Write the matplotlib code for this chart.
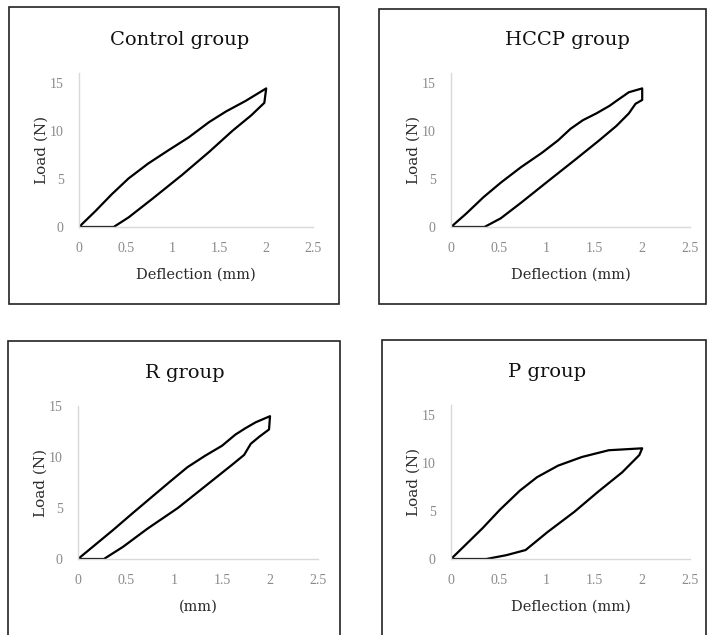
import matplotlib
matplotlib.use('Agg')
import matplotlib.pyplot as plt
from matplotlib.patches import Rectangle

# load-deflection loops (loading then unloading)
control_x = [0, 0.17, 0.35, 0.53, 0.74, 0.96, 1.17, 1.39, 1.57, 1.78, 2.0,
             1.98, 1.84, 1.64, 1.39, 1.10, 0.78, 0.53, 0.37, 0]
control_y = [0, 1.6, 3.4, 5.05, 6.6, 8.0, 9.3, 10.9, 12.0, 13.1, 14.4,
             12.9, 11.6, 10.0, 7.8, 5.4, 2.9, 1.0, 0, 0]

hccp_x = [0, 0.16, 0.34, 0.52, 0.73, 0.95, 1.12, 1.25, 1.38, 1.52, 1.66, 1.73, 1.86, 2.0,
          2.0, 1.93, 1.86, 1.73, 1.55, 1.30, 1.02, 0.73, 0.52, 0.35, 0]
hccp_y = [0, 1.4, 3.1, 4.6, 6.2, 7.7, 9.0, 10.2, 11.1, 11.8, 12.6, 13.1, 14.0, 14.4,
          13.2, 12.8, 11.8, 10.5, 9.0, 7.0, 4.8, 2.5, 0.9, 0, 0]

r_x = [0, 0.18, 0.36, 0.57, 0.79, 0.96, 1.14, 1.32, 1.50, 1.64, 1.74, 1.85, 2.0,
       1.99, 1.89, 1.80, 1.73, 1.60, 1.32, 1.04, 0.72, 0.47, 0.27, 0]
r_y = [0, 1.4, 2.8, 4.5, 6.25, 7.6, 9.0, 10.1, 11.1, 12.2, 12.8, 13.4, 14.0,
       12.7, 12.0, 11.3, 10.2, 9.2, 7.1, 5.0, 2.95, 1.2, 0, 0]

p_x = [0, 0.15, 0.33, 0.51, 0.72, 0.90, 1.12, 1.37, 1.65, 2.0,
       1.97, 1.79, 1.54, 1.29, 1.01, 0.78, 0.58, 0.37, 0]
p_y = [0, 1.45, 3.2, 5.1, 7.1, 8.5, 9.7, 10.6, 11.3, 11.5,
       10.8, 9.0, 7.0, 4.9, 2.8, 0.93, 0.4, 0, 0]

titles = ['Control group', 'HCCP group', 'R group', 'P group']
xlabels = ['Deflection (mm)', 'Deflection (mm)', '(mm)', 'Deflection (mm)']
ylabel = 'Load (N)'
xticks = [0, 0.5, 1, 1.5, 2, 2.5]
xticklabels = ['0', '0.5', '1', '1.5', '2', '2.5']
yticks = [0, 5, 10, 15]

W, H = 707, 635
fig = plt.figure(figsize=(W / 100, H / 100), dpi=100)

# pixel layout: frame box, axes box (left, right, y=0, top), ylim top, title pos
panels = [
    dict(x=control_x, y=control_y, frame=(9, 7, 339, 304), axbox=(79, 313, 227, 73), ymax=16, title=(180, 40)),
    dict(x=hccp_x, y=hccp_y, frame=(379, 9, 706, 304), axbox=(451, 690, 227, 73), ymax=16, title=(567, 40)),
    dict(x=r_x, y=r_y, frame=(8, 341, 340, 640), axbox=(78, 318, 559, 406), ymax=15, title=(185, 373)),
    dict(x=p_x, y=p_y, frame=(382, 340, 706, 640), axbox=(451, 690, 559, 405), ymax=16, title=(547, 372)),
]

gray = '#8a8a8a'
for i, p in enumerate(panels):
    x0, y0, x1, y1 = p['frame']
    fig.add_artist(Rectangle((x0 / W, 1 - y1 / H), (x1 - x0) / W, (y1 - y0) / H,
                             transform=fig.transFigure, fill=False, ec='#222222', lw=1.2))
    l, r, b, t = p['axbox']
    ax = fig.add_axes([l / W, 1 - b / H, (r - l) / W, (b - t) / H])
    ax.plot(p['x'], p['y'], color='black', lw=1.6, solid_joinstyle='round')
    ax.set_xlim(0, 2.5)
    ax.set_ylim(0, p['ymax'])
    ax.set_xticks(xticks)
    ax.set_xticklabels(xticklabels)
    ax.set_yticks(yticks)
    for s in ['top', 'right']:
        ax.spines[s].set_visible(False)
    for s in ['left', 'bottom']:
        ax.spines[s].set_color('#d9d9d9')
        ax.spines[s].set_linewidth(1.0)
    ax.tick_params(axis='x', length=0, pad=11, labelsize=10, labelcolor=gray)
    ax.tick_params(axis='y', length=0, pad=11, labelsize=10, labelcolor=gray)
    for lab in ax.get_xticklabels() + ax.get_yticklabels():
        lab.set_family('Liberation Serif')
    ax.patch.set_alpha(0)
    ax.set_xlabel(xlabels[i], family='DejaVu Serif', fontsize=10.5, color='#2a2a2a', labelpad=9)
    ax.set_ylabel(ylabel, family='DejaVu Serif', fontsize=11, color='#2a2a2a', labelpad=1)
    tx, ty = p['title']
    fig.text(tx / W, 1 - ty / H, titles[i], family='DejaVu Serif', fontsize=14,
             ha='center', va='center', color='#111111')

fig.savefig('out.png', dpi=100)
